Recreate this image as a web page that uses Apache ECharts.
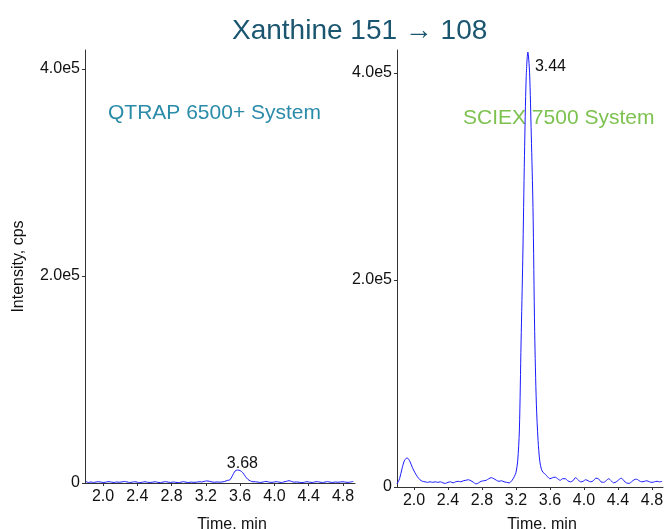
<!DOCTYPE html>
<html>
<head>
<meta charset="utf-8">
<title>Xanthine 151 → 108</title>
<script src="https://cdn.jsdelivr.net/npm/echarts@6/dist/echarts.min.js"></script>
<style>
  html, body { margin: 0; padding: 0; background: #fff; }
  #main { width: 665px; height: 529px; }
</style>
</head>
<body>
<div id="main"></div>
<script>
// time (min) and intensity (x1000 cps)
var qtrapTime = [1.80, 1.83, 1.86, 1.89, 1.92, 1.95, 1.98, 2.01, 2.04, 2.07, 2.10, 2.13, 2.16, 2.19, 2.22, 2.25, 2.28, 2.31, 2.34, 2.37,
  2.40, 2.43, 2.46, 2.49, 2.52, 2.55, 2.58, 2.61, 2.64, 2.67, 2.70, 2.73, 2.76, 2.79, 2.82, 2.85, 2.88, 2.91, 2.94, 2.97,
  3.00, 3.03, 3.06, 3.09, 3.12, 3.15, 3.18, 3.21, 3.24, 3.27, 3.30, 3.33, 3.36, 3.39, 3.42, 3.45, 3.48, 3.51, 3.54, 3.57,
  3.60, 3.63, 3.66, 3.69, 3.72, 3.75, 3.78, 3.81, 3.84, 3.87, 3.90, 3.93, 3.96, 3.99, 4.02, 4.05, 4.08, 4.11, 4.14, 4.17,
  4.20, 4.23, 4.26, 4.29, 4.32, 4.35, 4.38, 4.41, 4.44, 4.47, 4.50, 4.53, 4.56, 4.59, 4.62, 4.65, 4.68, 4.71, 4.74, 4.77,
  4.80, 4.83, 4.86, 4.89, 4.92];
var qtrapIntensity = [1.5, 0.5, 1, 0.5, 1, 1.2, 0.8, 0.5, 1, 1.3, 0.8, 0.5, 1, 0.7, 1, 1.5, 1, 0.5, 0.8, 1.2,
  0.8, 0.3, 0.8, 1.2, 0.7, 0.5, 0.8, 1.2, 0.6, 0.4, 0.9, 1.3, 0.8, 0.5, 1, 0.6, 0.4, 0.8, 1.3, 0.7,
  0.5, 0.9, 0.6, 0.8, 1.2, 1, 1.5, 2, 1.7, 1, 0.7, 1, 0.8, 1, 1.5, 2.5, 3, 7, 11.5, 12.5,
  12, 10, 6.5, 3.5, 2, 1.2, 1.2, 0.8, 0.5, 1, 1.5, 1, 0.6, 0.8, 1.3, 0.9, 0.5, 1, 1.6, 2.2,
  1.5, 0.8, 1, 0.7, 0.4, 0.8, 1.2, 0.8, 0.5, 1, 1.3, 0.8, 0.5, 0.9, 1.3, 0.8, 0.5, 1, 0.7, 1,
  1.2, 0.8, 0.6, 1, 1.5];

var sciexTime = [1.80, 1.83, 1.86, 1.89, 1.92, 1.95, 1.98, 2.01, 2.04, 2.07, 2.10, 2.13, 2.16, 2.19, 2.22, 2.25, 2.28, 2.31, 2.34, 2.37,
  2.40, 2.43, 2.46, 2.49, 2.52, 2.55, 2.58, 2.61, 2.64, 2.67, 2.70, 2.73, 2.76, 2.79, 2.82, 2.85, 2.88, 2.91, 2.94, 2.97,
  3.00, 3.03, 3.06, 3.09, 3.12, 3.15, 3.18, 3.20, 3.22, 3.24, 3.26, 3.28, 3.30, 3.32, 3.34, 3.36, 3.38, 3.40, 3.42, 3.44,
  3.46, 3.48, 3.50, 3.52, 3.55, 3.57, 3.60, 3.63, 3.66, 3.69, 3.72, 3.75, 3.78, 3.81, 3.84, 3.87, 3.90, 3.93, 3.96, 3.99,
  4.02, 4.05, 4.08, 4.11, 4.14, 4.17, 4.20, 4.23, 4.26, 4.29, 4.32, 4.35, 4.38, 4.41, 4.44, 4.47, 4.50, 4.53, 4.56, 4.59,
  4.62, 4.65, 4.68, 4.71, 4.74, 4.77, 4.80, 4.83, 4.86, 4.89, 4.92];
var sciexIntensity = [3, 8, 18, 26, 28, 25, 19, 14, 10, 7, 5.5, 5, 4.5, 5, 4.5, 5, 4.5, 5, 4, 3.5,
  4.5, 5, 4, 5, 5.5, 5, 6, 6.5, 7, 6, 4.5, 3, 4, 5.5, 6, 6.5, 8, 9, 8, 6.5,
  5.5, 6, 5, 4.5, 4, 6, 10, 14, 25, 55, 140, 220, 320, 395, 420, 400, 340, 270, 150, 80,
  45, 25, 17, 14, 12, 10, 8, 9, 9.5, 8, 6.5, 8, 8, 6, 5, 6, 9, 7, 5, 5.5,
  7, 6, 5, 6, 8.5, 8, 5, 4.5, 6, 8, 6, 4, 5, 7, 8.5, 6, 4, 3.5, 5, 7,
  7.5, 6, 5, 5.5, 6, 5, 4.5, 5, 5.5, 5, 5.5];

var timeTicks = [2.0, 2.4, 2.8, 3.2, 3.6, 4.0, 4.4, 4.8];

// apex labels: [time, intensity x1000, RT text]
var qtrapApex = [3.58, 12.5, '3.68'];
var sciexApex = [3.34, 420, '3.44'];

function pairs(t, v) {
  var out = [];
  for (var i = 0; i < t.length; i++) out.push([t[i], v[i] * 1000]);
  return out;
}

var chartDom = document.getElementById('main');
var myChart = echarts.init(chartDom);
var option;

var font = 'Liberation Sans, Arial, sans-serif';

function xAxis(idx, min, max, gap) {
  return {
    type: 'value',
    gridIndex: idx,
    min: min,
    max: max,
    name: 'Time, min',
    nameLocation: 'middle',
    nameGap: gap,
    nameTextStyle: { color: '#111', fontSize: 16, fontFamily: font, padding: [0, 0, 0, 24] },
    splitLine: { show: false },
    axisLine: { lineStyle: { color: '#333', width: 1 } },
    axisTick: { customValues: timeTicks, length: 3, lineStyle: { color: '#333' } },
    axisLabel: {
      customValues: timeTicks,
      color: '#111', fontSize: 16, fontFamily: font, margin: 6,
      formatter: function (v) { return v.toFixed(1); }
    }
  };
}

function yAxis(idx, max, name) {
  return {
    type: 'value',
    gridIndex: idx,
    min: 0,
    max: max,
    interval: 200000,
    name: name,
    nameLocation: 'middle',
    nameGap: 58,
    nameTextStyle: { color: '#111', fontSize: 16, fontFamily: font },
    splitLine: { show: false },
    axisLine: { show: true, lineStyle: { color: '#333', width: 1 } },
    axisTick: { show: true, length: 3, lineStyle: { color: '#333' } },
    axisLabel: {
      color: '#111', fontSize: 16, fontFamily: font, margin: 5,
      showMaxLabel: false,
      formatter: function (v) { return v === 0 ? '0' : (v / 1e5).toFixed(1) + 'e5'; }
    }
  };
}

option = {
  animation: false,
  backgroundColor: '#fff',
  title: {
    text: 'Xanthine 151 \u2192 108',
    left: 227,
    top: 12,
    textStyle: { color: '#1b5670', fontSize: 28, fontWeight: 'normal', fontFamily: font }
  },
  graphic: [
    { type: 'text', left: 108, top: 103, style: { text: 'QTRAP 6500+ System', fill: '#2b8ca9', fontSize: 21, fontFamily: font } },
    { type: 'text', left: 463, top: 108, style: { text: 'SCIEX 7500 System', fill: '#7dc250', fontSize: 21, fontFamily: font } }
  ],
  grid: [
    { left: 85, right: 310, top: 50, bottom: 46, containLabel: false, outerBoundsMode: 'none' },
    { left: 397, right: 2, top: 50, bottom: 42, containLabel: false, outerBoundsMode: 'none' }
  ],
  xAxis: [xAxis(0, 1.79, 4.94, 34), xAxis(1, 1.80, 4.93, 30)],
  yAxis: [yAxis(0, 418400, 'Intensity, cps'), yAxis(1, 422000, '')],
  series: [
    {
      type: 'line',
      xAxisIndex: 0,
      yAxisIndex: 0,
      data: pairs(qtrapTime, qtrapIntensity),
      showSymbol: false,
      smooth: 0.3,
      lineStyle: { color: '#1a1aff', width: 1 },
      markPoint: {
        symbol: 'circle',
        symbolSize: 0,
        data: [{ coord: [qtrapApex[0], qtrapApex[1] * 1000], value: qtrapApex[2] }],
        label: { show: true, position: 'top', distance: 3, offset: [4, 5], color: '#111', fontSize: 16, fontFamily: font, formatter: '{c}' }
      }
    },
    {
      type: 'line',
      xAxisIndex: 1,
      yAxisIndex: 1,
      data: pairs(sciexTime, sciexIntensity),
      showSymbol: false,
      smooth: 0.3,
      lineStyle: { color: '#1a1aff', width: 1 },
      markPoint: {
        symbol: 'circle',
        symbolSize: 0,
        data: [{ coord: [sciexApex[0], sciexApex[1] * 1000], value: sciexApex[2] }],
        label: { show: true, position: 'right', distance: 7, offset: [0, 15], color: '#111', fontSize: 16, fontFamily: font, formatter: '{c}' }
      }
    }
  ]
};

option && myChart.setOption(option);
</script>
</body>
</html>
